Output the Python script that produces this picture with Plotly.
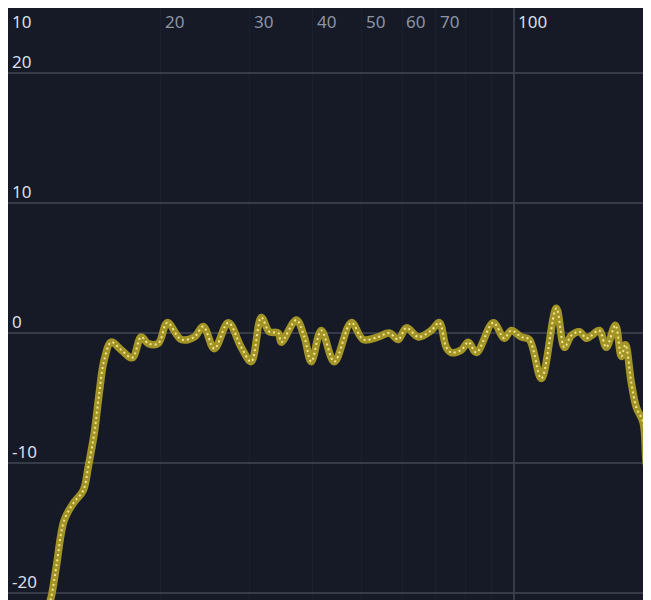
import math
import plotly.graph_objects as go

# frequency response (Hz, dB)
freq = [11.94, 12.16, 12.44, 12.90, 13.44, 14.07, 14.39, 14.79, 15.13, 15.47,
        15.98, 16.72, 17.58, 18.31, 18.90, 19.79, 20.62, 21.97, 23.32, 24.29,
        25.54, 27.21, 28.87, 30.21, 31.62, 32.80, 34.17, 34.64, 37.09, 38.46,
        39.70, 41.55, 44.09, 47.63, 50.30, 53.84, 56.62, 59.00, 61.18, 64.62,
        68.55, 71.09, 73.39, 75.08, 78.59, 81.13, 84.14, 90.89, 95.55, 98.64,
        103.2, 107.1, 113.1, 121.1, 125.6, 129.6, 134.5, 138.8, 142.0, 147.2,
        152.0, 158.4, 162.8, 165.8, 170.3, 174.2, 179.8, 182.3, 186.6, 191.7]
gain = [-21.3, -20.3, -18.0, -14.4, -13.1, -12.1, -10.3, -7.7, -4.6, -2.1,
        -0.7, -1.3, -1.9, -0.3, -0.8, -0.8, 0.8, -0.5, -0.3, 0.5,
        -1.2, 0.8, -1.1, -2.2, 1.2, 0.1, 0.0, -0.7, 1.0, -0.3,
        -2.2, 0.2, -2.2, 0.8, -0.5, -0.3, 0.0, -0.5, 0.4, -0.3,
        0.2, 0.8, -1.1, -1.5, -1.3, -0.7, -1.5, 0.8, -0.4, 0.2,
        -0.3, -0.5, -3.5, 1.9, -1.1, -0.2, 0.1, -0.4, -0.2, 0.2,
        -1.1, 0.6, -1.8, -0.9, -3.8, -5.7, -6.9, -10.0, -12.1, -14.4]

x_labels = [10, 20, 30, 40, 50, 60, 70, 100]
x_major = [10, 100]
x_minor = [20, 30, 40, 50, 60, 70, 80, 90]
y_ticks = [-20, -10, 0, 10, 20]

BG = '#151a26'
GRID = '#353b49'
FAINT = '#1b202e'
BRIGHT = '#dcdfe6'
DIM = '#8e95a3'

fig = go.Figure()

# thick olive body of the curve
fig.add_trace(go.Scatter(
    x=freq, y=gain, mode='lines',
    line=dict(color='#a39428', width=7.5, shape='spline', smoothing=1),
    hoverinfo='skip'
))
# dotted light core
fig.add_trace(go.Scatter(
    x=freq, y=gain, mode='lines',
    line=dict(color='#f3e68a', width=2, dash='2px,3px', shape='spline', smoothing=1),
    hoverinfo='skip'
))

# tick labels sit inside the plot, next to their grid lines
for v in x_labels:
    fig.add_annotation(
        x=math.log10(v), xref='x', y=1, yref='paper',
        text=str(v), showarrow=False,
        xanchor='left', yanchor='top', xshift=2, yshift=0,
        font=dict(color=BRIGHT if v in x_major else DIM)
    )
for v in y_ticks:
    fig.add_annotation(
        x=0, xref='paper', y=v, yref='y',
        text=str(v), showarrow=False,
        xanchor='left', yanchor='bottom', xshift=2, yshift=-2,
        font=dict(color=BRIGHT)
    )

fig.update_layout(
    width=651, height=600,
    margin=dict(l=0, r=0, t=0, b=0),
    paper_bgcolor=BG, plot_bgcolor=BG,
    showlegend=False,
    font=dict(family='Noto Sans', size=17, color=BRIGHT),
    xaxis=dict(
        type='log', range=[0.9995, 2.286],
        tickvals=x_major, showticklabels=False, ticks='',
        showgrid=True, gridcolor=GRID, gridwidth=1.5,
        minor=dict(tickvals=x_minor, showgrid=True, gridcolor=FAINT, gridwidth=1),
        zeroline=False, showline=False,
    ),
    yaxis=dict(
        range=[-21.15, 25.0],
        tickvals=y_ticks, showticklabels=False, ticks='',
        showgrid=True, gridcolor=GRID, gridwidth=1.5,
        zeroline=False, showline=False,
    ),
)

fig.write_html("out.html")
